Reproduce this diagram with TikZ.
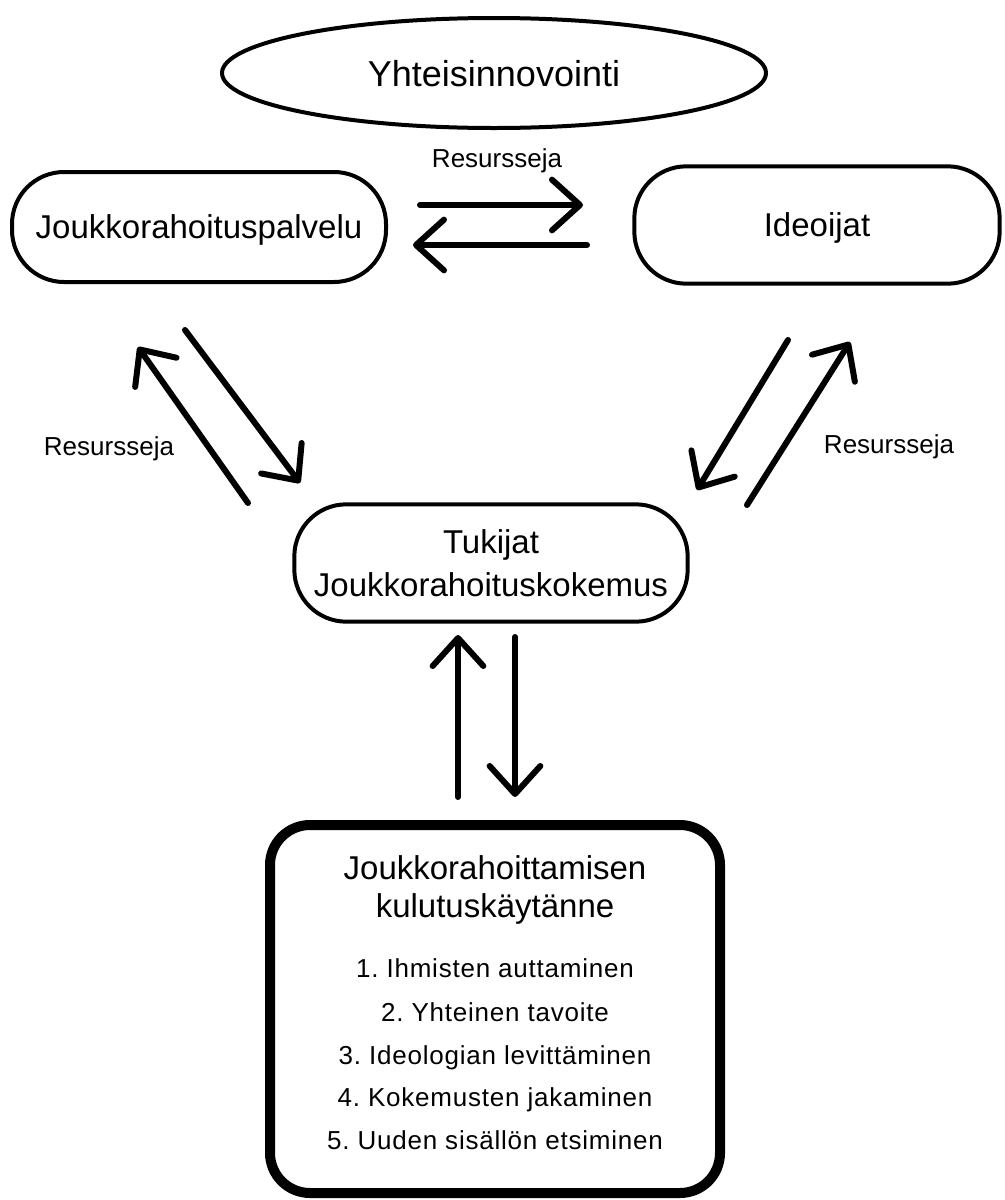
\documentclass[tikz,border=0pt]{standalone}
\usepackage{fontspec}
\setmainfont{Liberation Sans}
\usetikzlibrary{arrows.meta,shapes.geometric}
\frenchspacing

\begin{document}
\begin{tikzpicture}[x=0.75pt,y=-0.75pt,
  pill/.style={draw,line width=3pt,rounded corners=39pt,inner sep=0pt,
    font=\fontsize{24.75}{32}\selectfont,align=center},
  big/.style={text height=17.7pt,text depth=0pt},
  huge/.style={text height=19.3pt,text depth=0pt},
  small/.style={text height=14pt,text depth=0pt},
  flow/.style={line width=4.5pt,line cap=round,
    -{Straight Barb[length=21pt,width=38pt,round]}},
  lbl/.style={font=\fontsize{19.5}{24}\selectfont,small},
  boxtitle/.style={font=\fontsize{24.75}{30}\selectfont,big},
  item/.style={font=\fontsize{19.5}{24}\selectfont\addfontfeatures{LetterSpace=3},small}]
\useasboundingbox (0,0) rectangle (1004,1200);

% Main actors
\node[draw,ellipse,line width=3pt,inner sep=0pt,minimum width=408pt,minimum height=82.5pt] (co) at (494,73) {};
\node[font=\fontsize{27}{32}\selectfont,huge] (cot) at (494,74) {Yhteisinnovointi};
\node[pill,big,minimum width=280.5pt,minimum height=82.5pt] (jp) at (199,227) {Joukkorahoituspalvelu};
\node[pill,big,minimum width=274pt,minimum height=88pt] (id) at (817,225) {Ideoijat};
\node[pill,minimum width=295pt,minimum height=88pt] (tk) at (491,563) {Tukijat\\Joukkorahoituskokemus};

% Consumption practice box
\node[draw,line width=7.5pt,rounded corners=30pt,minimum width=337.5pt,minimum height=276pt] (kb) at (495,1009) {};
\node[boxtitle] (t1) at (495,868) {Joukkorahoittamisen};
\node[boxtitle] (t2) at (495,906) {kulutuskäytänne};
\node[item] (i1) at (495,968) {1. Ihmisten auttaminen};
\node[item] (i2) at (495,1012) {2. Yhteinen tavoite};
\node[item] (i3) at (495,1055) {3. Ideologian levittäminen};
\node[item] (i4) at (495,1097) {4. Kokemusten jakaminen};
\node[item] (i5) at (495,1140) {5. Uuden sisällön etsiminen};

% Arrow end points
\coordinate (a1) at (420,205); \coordinate (a2) at (583,205);
\coordinate (b1) at (587,245); \coordinate (b2) at (413,245);
\coordinate (c1) at (248,503); \coordinate (c2) at (138,347);
\coordinate (d1) at (185,330); \coordinate (d2) at (300,483);
\coordinate (e1) at (788,340); \coordinate (e2) at (697,490);
\coordinate (f1) at (747,505); \coordinate (f2) at (850,342);
\coordinate (g1) at (458,797); \coordinate (g2) at (458,635);
\coordinate (h1) at (515,637); \coordinate (h2) at (515,797);

\draw[flow] (a1) -- (a2);
\draw[flow] (b1) -- (b2);
\draw[flow] (c1) -- (c2);
\draw[flow] (d1) -- (d2);
\draw[flow] (e1) -- (e2);
\draw[flow] (f1) -- (f2);
\draw[flow] (g1) -- (g2);
\draw[flow] (h1) -- (h2);

% Flow labels
\node[lbl] (r1) at (497,158) {Resursseja};
\node[lbl] (r2) at (109,446) {Resursseja};
\node[lbl] (r3) at (889,444) {Resursseja};
\end{tikzpicture}
\end{document}
